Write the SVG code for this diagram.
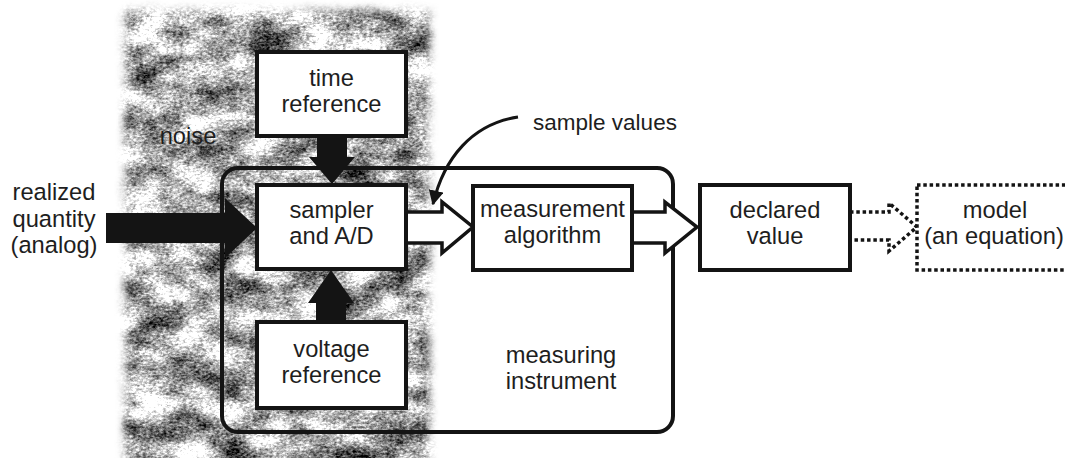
<svg xmlns="http://www.w3.org/2000/svg" width="1065" height="458" viewBox="0 0 1065 458">
  <style>
    .box { fill: #ffffff; stroke: #141414; stroke-width: 4; }
    .lbl { font-family: "Liberation Sans", Arial, sans-serif; font-size: 23.7px; fill: #1e1e1e; text-anchor: middle; }
    .solid { fill: #141414; }
    .hollow { fill: #ffffff; stroke: #141414; stroke-width: 3.5; stroke-linejoin: miter; }
    .dotted { fill: none; stroke: #141414; stroke-width: 3.5; stroke-dasharray: 3.5 2.8; }
  </style>
  <defs>
    <!-- mottled grey texture for the noise band -->
    <filter id="grain" filterUnits="userSpaceOnUse" x="100" y="0" width="350" height="458" color-interpolation-filters="sRGB">
      <feTurbulence type="fractalNoise" baseFrequency="0.024 0.036" numOctaves="5" seed="11" result="blotRaw"/>
      <feColorMatrix in="blotRaw" type="matrix" values="1 0 0 0 0  1 0 0 0 0  1 0 0 0 0  0 0 0 0 1" result="blot"/>
      <feTurbulence type="fractalNoise" baseFrequency="0.3 0.45" numOctaves="3" seed="2" result="fineRaw"/>
      <feColorMatrix in="fineRaw" type="matrix" values="1 0 0 0 0  1 0 0 0 0  1 0 0 0 0  0 0 0 0 1" result="fine"/>
      <feComposite in="blot" in2="fine" operator="arithmetic" k1="0" k2="0.8" k3="0.45" k4="-0.125" result="mix"/>
      <feColorMatrix in="mix" type="matrix" values="2.1 0 0 0 -0.37  2.1 0 0 0 -0.37  2.1 0 0 0 -0.37  0 0 0 0 1"/>
    </filter>
    <!-- softened, slightly ragged outline of the noise band -->
    <filter id="feather" filterUnits="userSpaceOnUse" x="80" y="-40" width="400" height="540">
      <feGaussianBlur stdDeviation="4" result="soft"/>
      <feTurbulence type="fractalNoise" baseFrequency="0.05" numOctaves="2" seed="5" result="wob"/>
      <feDisplacementMap in="soft" in2="wob" scale="6" xChannelSelector="R" yChannelSelector="G"/>
    </filter>
    <mask id="band" maskUnits="userSpaceOnUse" x="0" y="0" width="1065" height="458">
      <rect x="125" y="10" width="304" height="480" fill="#ffffff" filter="url(#feather)"/>
    </mask>
    <marker id="tip" viewBox="0 0 10 10" refX="9" refY="5" markerWidth="5" markerHeight="5" orient="auto" markerUnits="strokeWidth">
      <path d="M0,0 L10,5 L0,10 Z" fill="#141414"/>
    </marker>
  </defs>

  <rect width="1065" height="458" fill="#ffffff"/>

  <!-- noise band -->
  <g id="noise-band" mask="url(#band)">
    <rect x="100" y="0" width="350" height="458" fill="#999" filter="url(#grain)"/>
  </g>

  <!-- instrument enclosure -->
  <g id="measuring-instrument">
    <rect x="222" y="168" width="451" height="264" rx="16" ry="16" fill="none" stroke="#141414" stroke-width="4"/>
    <text class="lbl" x="561" y="363">measuring</text>
    <text class="lbl" x="561" y="389">instrument</text>
  </g>

  <g id="connectors">
    <!-- realized quantity into the sampler -->
    <polygon class="solid" points="106,213 225,213 225,198 257,228 225,258 225,243 106,243"/>
    <!-- time reference down to the sampler -->
    <polygon class="solid" points="317,136 347,136 347,157 355,157 332,184 309,157 317,157"/>
    <!-- voltage reference up to the sampler -->
    <polygon class="solid" points="316,322 346,322 346,303 354,303 331,270 308,303 316,303"/>
    <!-- sample values into the algorithm -->
    <polygon class="hollow" points="406,212 442,212 442,202 473,227 442,253 442,243 406,243"/>
    <!-- algorithm out to declared value -->
    <polygon class="hollow" points="632,212 665,212 665,202 697,227 665,253 665,243 632,243"/>
    <!-- declared value to model -->
    <path class="dotted" d="M850,212 H889 V203 L917,227 L889,251 V240 H850"/>
    <!-- sample values pointer -->
    <path d="M518,117 C472,124 444,158 433,204" fill="none" stroke="#141414" stroke-width="3" marker-end="url(#tip)"/>
  </g>

  <g id="time-reference">
    <rect class="box" x="257" y="52" width="149" height="84"/>
    <text class="lbl" x="331.5" y="86">time</text>
    <text class="lbl" x="331.5" y="112">reference</text>
  </g>

  <g id="sampler">
    <rect class="box" x="257" y="185" width="149" height="84"/>
    <text class="lbl" x="331.5" y="218">sampler</text>
    <text class="lbl" x="331.5" y="244">and A/D</text>
  </g>

  <g id="voltage-reference">
    <rect class="box" x="257" y="322" width="149" height="86"/>
    <text class="lbl" x="331.5" y="357">voltage</text>
    <text class="lbl" x="331.5" y="383">reference</text>
  </g>

  <g id="measurement-algorithm">
    <rect class="box" x="473" y="186" width="159" height="84"/>
    <text class="lbl" x="552.5" y="217">measurement</text>
    <text class="lbl" x="552.5" y="243">algorithm</text>
  </g>

  <g id="declared-value">
    <rect class="box" x="700" y="185" width="150" height="85"/>
    <text class="lbl" x="775" y="218">declared</text>
    <text class="lbl" x="775" y="244">value</text>
  </g>

  <g id="model">
    <rect x="917" y="185" width="160" height="85" fill="#ffffff" stroke="#141414" stroke-width="3.5" stroke-dasharray="3.5 2.8"/>
    <text class="lbl" x="995" y="218">model</text>
    <text class="lbl" x="994" y="244">(an equation)</text>
  </g>

  <g id="labels">
    <text class="lbl" x="188" y="144">noise</text>
    <text class="lbl" x="54" y="200">realized</text>
    <text class="lbl" x="54" y="227">quantity</text>
    <text class="lbl" x="54" y="253">(analog)</text>
    <text class="lbl" x="605" y="130" style="font-size:22.5px">sample values</text>
  </g>
</svg>
